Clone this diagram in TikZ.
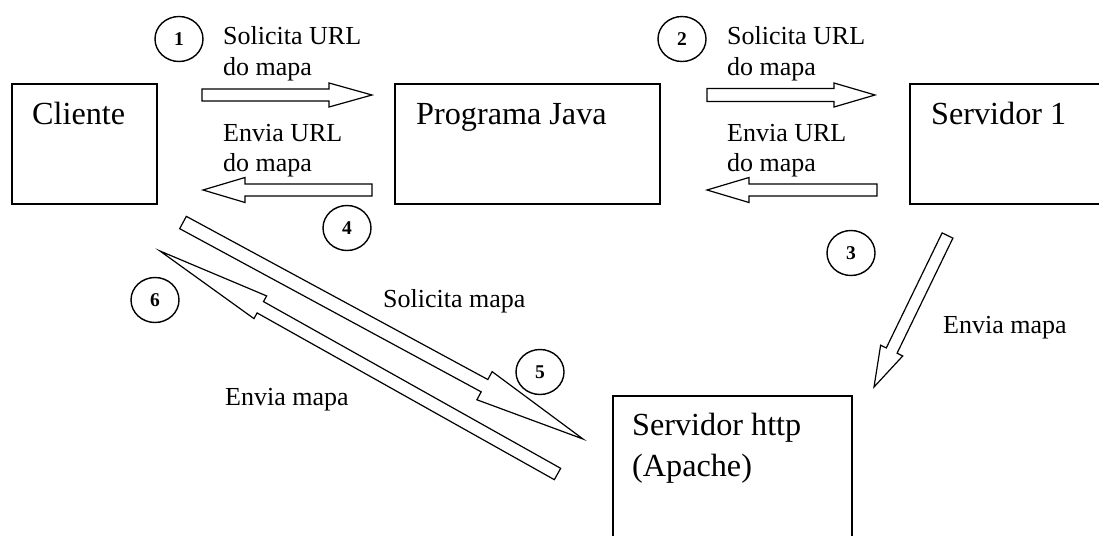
\documentclass[tikz,border=0pt]{standalone}
\usepackage{fontspec}
\setmainfont{Liberation Serif}
\usetikzlibrary{calc,shapes.geometric}
% block arrow: #1 tail, #2 tip, #3 shaft half width, #4 head half width, #5 head length
\newcommand\blockarrow[5]{%
  \coordinate (ba-base) at ($(#2)!#5!(#1)$);
  \draw[barrow] ($(#1)!#3!90:(#2)$) -- ($(ba-base)!#3!90:(#2)$) -- ($(ba-base)!#4!90:(#2)$)
    -- (#2) -- ($(ba-base)!#4!-90:(#2)$) -- ($(ba-base)!#3!-90:(#2)$) -- ($(#1)!#3!-90:(#2)$) -- cycle;
}
\begin{document}
\begin{tikzpicture}[x=1pt,y=-1pt,
  box/.style={draw, line width=1.6pt, anchor=north west, inner sep=0pt},
  boxtext/.style={anchor=base west, inner sep=0pt, font=\fontsize{32.2}{36}\selectfont},
  lbl/.style={anchor=base west, inner sep=0pt, font=\fontsize{26}{30}\selectfont},
  num/.style={draw, ellipse, line width=1.4pt, minimum width=48pt, minimum height=45pt, inner sep=0pt, font=\fontsize{19.5}{21}\selectfont\bfseries},
  barrow/.style={draw, line width=1.2pt, fill=white, line join=miter}]
\clip (0,0) rectangle (1099,535);
\fill[white] (0,0) rectangle (1099,535);

% boxes
\node[box, minimum width=145pt, minimum height=120pt] (cliente) at (11,83) {};
\node[box, minimum width=265pt, minimum height=120pt] (prog) at (394,83) {};
\node[box, minimum width=210pt, minimum height=120pt] (serv1) at (909,83) {};
\node[box, minimum width=239pt, minimum height=170pt] (http) at (612,395) {};

\node[boxtext] (tcliente) at (32,124) {Cliente};
\node[boxtext] (tprog) at (416,124) {Programa Java};
\node[boxtext] (tserv1) at (931,124) {Servidor 1};
\node[boxtext] (thttp1) at (632,435) {Servidor http};
\node[boxtext] (thttp2) at (632,476) {(Apache)};

% labels
\node[lbl] (l1a) at (223,45) {Solicita URL};
\node[lbl] (l1b) at (223,75) {do mapa};
\node[lbl] (l4a) at (223,141) {Envia URL};
\node[lbl] (l4b) at (223,171) {do mapa};
\node[lbl] (l2a) at (727,45) {Solicita URL};
\node[lbl] (l2b) at (727,75) {do mapa};
\node[lbl] (l3a) at (727,141) {Envia URL};
\node[lbl] (l3b) at (727,171) {do mapa};
\node[lbl] (l5) at (383,307) {Solicita mapa};
\node[lbl] (l6) at (225,405) {Envia mapa};
\node[lbl] (l7) at (943,333) {Envia mapa};

% numbered circles
\node[num] (c1) at (179,39) {1};
\node[num] (c2) at (682,39) {2};
\node[num] (c3) at (851,253) {3};
\node[num] (c4) at (347,228) {4};
\node[num] (c5) at (540,372) {5};
\node[num] (c6) at (155,300) {6};

% arrow end points
\coordinate (a1t) at (202,95);   \coordinate (a1h) at (372,95);
\coordinate (a4t) at (372,190);  \coordinate (a4h) at (203,190);
\coordinate (a2t) at (707,95);   \coordinate (a2h) at (875,95);
\coordinate (a3t) at (877,190);  \coordinate (a3h) at (707,190);
\coordinate (a5t) at (183,222.5); \coordinate (a5h) at (583,439);
\coordinate (a6t) at (557.5,474); \coordinate (a6h) at (160,251);
\coordinate (a7t) at (947.5,235.5); \coordinate (a7h) at (874,387);

\blockarrow{a1t}{a1h}{6pt}{12pt}{43pt}
\blockarrow{a4t}{a4h}{6pt}{12.5pt}{42pt}
\blockarrow{a2t}{a2h}{6.5pt}{12pt}{41pt}
\blockarrow{a3t}{a3h}{6pt}{12.5pt}{42pt}
\blockarrow{a5t}{a5h}{7pt}{16pt}{112pt}
\blockarrow{a6t}{a6h}{6.5pt}{13pt}{115pt}
\blockarrow{a7t}{a7h}{6pt}{12.3pt}{40.5pt}
\end{tikzpicture}
\end{document}
